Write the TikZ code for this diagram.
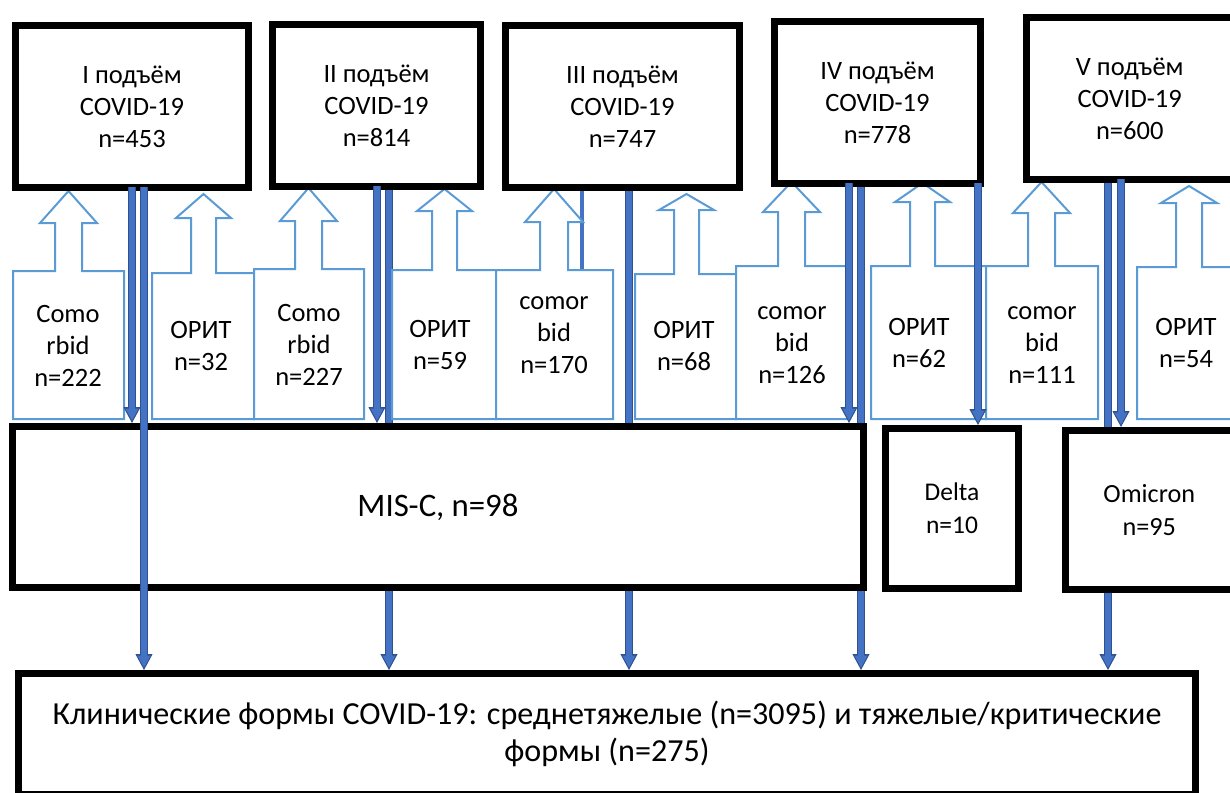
\documentclass[tikz,border=0pt]{standalone}
\usepackage{fontspec}
\setmainfont{Carlito}
\usetikzlibrary{arrows.meta,backgrounds}
\definecolor{lblue}{HTML}{5B9BD5}
\definecolor{dfill}{HTML}{4472C4}
\definecolor{dline}{HTML}{2F528F}
\tikzset{
  box/.style={draw=black, line width=3.5pt, fill=white, inner sep=0pt, align=center,
    font=\fontsize{13.25pt}{16pt}\selectfont},
  barr/.style={draw=lblue, line width=1pt, fill=white, line join=miter},
  btxt/.style={align=center, inner sep=0pt, font=\fontsize{13.25pt}{16pt}\selectfont},
  darr/.style={draw=dline, line width=3.75pt, shorten <=-2pt,
    -{Triangle[width=8.5pt,length=8pt,line width=0.5pt]},
    postaction={draw=dfill, line width=2.75pt,
      -{Triangle[width=6.5pt,length=6pt,line width=0pt]}, shorten >=1.2pt}},
  dthin/.style={draw=dfill, line width=2.25pt}
}
\newcommand\bArrow[7]{\draw[barr] (#1,419) -- (#1,#3) -- (#4,#3) -- (#4,#6) -- ({#4-15},#6) -- ({(#4+#5)/2},#7) -- ({#5+15},#6) -- (#5,#6) -- (#5,#3) -- (#2,#3) -- (#2,419) -- cycle;}
\begin{document}
\begin{tikzpicture}[x=0.5pt,y=-0.5pt]
\useasboundingbox (0,0) rectangle (1230,792);
% top boxes
\node[box, minimum width=116.5pt, minimum height=81pt] (b1) at (132,106.5) {I подъём\\COVID-19\\n=453};
\node[box, minimum width=104pt, minimum height=81pt] (b2) at (376.5,105.5) {II подъём\\COVID-19\\n=814};
\node[box, minimum width=117pt, minimum height=81pt] (b3) at (622.5,106.5) {III подъём\\COVID-19\\n=747};
\node[box, minimum width=103pt, minimum height=81pt] (b4) at (877.5,102.5) {IV подъём\\COVID-19\\n=778};
\node[box, minimum width=103.25pt, minimum height=81pt] (b5) at (1129.75,98.5) {V подъём\\COVID-19\\n=600};
% middle boxes
\node[box, minimum width=425.5pt, minimum height=80.5pt, font=\fontsize{16.4pt}{19pt}\selectfont] (mis) at (438,507) {MIS-C, n=98};
\node[box, minimum width=66.5pt, minimum height=80pt, font=\fontsize{12.75pt}{16.5pt}\selectfont] (delta) at (952,508.5) {Delta\\n=10};
\node[box, minimum width=83.75pt, minimum height=79.5pt, font=\fontsize{13.1pt}{16.5pt}\selectfont] (omi) at (1149.25,510) {Omicron\\n=95};
% bottom box
\node[box, minimum width=588.5pt, minimum height=60.25pt, font=\fontsize{16.05pt}{18.5pt}\selectfont] (bot) at (607,733.75) {Клинические формы COVID-19: среднетяжелые (n=3095) и тяжелые/критические\\формы (n=275)};
% x positions of the dark arrows
\coordinate (x1) at (132,0);
\coordinate (x2) at (144,0);
\coordinate (x3) at (377,0);
\coordinate (x4) at (389,0);
\coordinate (x5) at (582,0);
\coordinate (x5e) at (582,300);
\coordinate (x6) at (629,0);
\coordinate (x7) at (849,0);
\coordinate (x8) at (861,0);
\coordinate (x9) at (978,0);
\coordinate (x10) at (1108,0);
\coordinate (x11) at (1121,0);
% arrows on top
\draw[darr] (b1.south -| x1) -- (mis.north -| x1);
\draw[darr] (b1.south -| x2) -- (bot.north -| x2);
\draw[darr] (b2.south -| x3) -- (mis.north -| x3);
\draw[darr] (b4.south -| x7) -- (mis.north -| x7);
\draw[darr] (b4.south -| x9) -- (delta.north -| x9);
\draw[darr] (b5.south -| x11) -- (omi.north -| x11);
\begin{scope}[on background layer]
\draw[darr] (b2.south -| x4) -- (bot.north -| x4);
\draw[dthin] (b3.south -| x5) -- (x5e);
\draw[darr] (b3.south -| x6) -- (bot.north -| x6);
\draw[darr] (b4.south -| x8) -- (bot.north -| x8);
\draw[darr] (b5.south -| x10) -- (bot.north -| x10);
% light blue block arrows
\bArrow{13}{124}{271}{55}{82}{223}{191}
\bArrow{152}{254}{273}{191}{216}{218}{194}
\bArrow{254}{364}{269}{295}{322}{221}{188}
\bArrow{392}{496}{270}{432}{457}{211}{189}
\bArrow{496}{613}{270}{540}{568}{222}{189}
\bArrow{635}{736}{274}{674}{699}{210}{194}
\bArrow{736}{850}{266}{778}{805}{212}{182}
\bArrow{871}{986}{266}{910}{935}{202}{183}
\bArrow{986}{1098}{266}{1028}{1055}{213}{182}
\bArrow{1137}{1245}{267}{1176}{1202}{203}{186}
\node[btxt] (t1) at (68,346) {Como\\rbid\\n=222};
\node[btxt] (t2) at (201,346) {ОРИТ\\n=32};
\node[btxt] (t3) at (309,345) {Como\\rbid\\n=227};
\node[btxt] (t4) at (440,345) {ОРИТ\\n=59};
\node[btxt] (t5) at (554,335) {comor\\bid\\n=170};
\node[btxt] (t6) at (684,346) {ОРИТ\\n=68};
\node[btxt] (t7) at (792,345) {comor\\bid\\n=126};
\node[btxt] (t8) at (919,343) {ОРИТ\\n=62};
\node[btxt] (t9) at (1042,345) {comor\\bid\\n=111};
\node[btxt] (t10) at (1186,343) {ОРИТ\\n=54};
\end{scope}
\end{tikzpicture}
\end{document}
